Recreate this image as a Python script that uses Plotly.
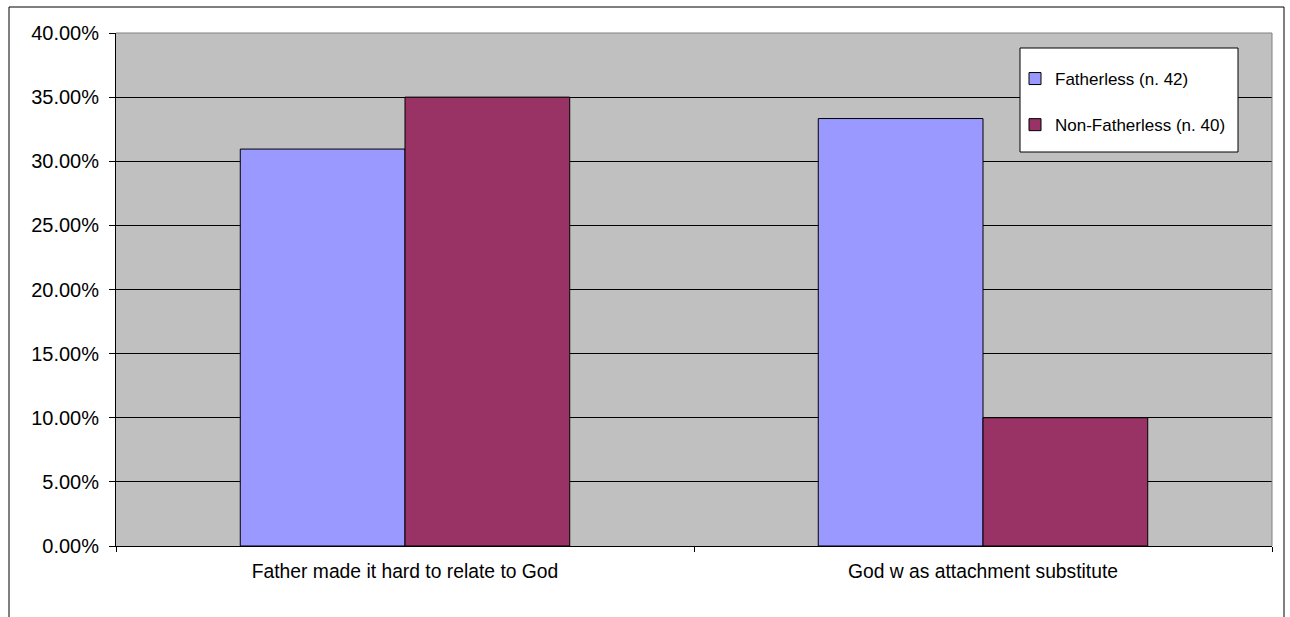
import plotly.graph_objects as go

categories = ["Father made it hard to relate to God", "God w as attachment substitute"]
fatherless = [0.3095, 0.3333]
non_fatherless = [0.35, 0.10]
series_names = ["Fatherless (n. 42)", "Non-Fatherless (n. 40)"]
y_ticks = [0, 0.05, 0.10, 0.15, 0.20, 0.25, 0.30, 0.35, 0.40]

FONT = "Liberation Sans, Arial, sans-serif"
W, H = 1290, 617
L, R, T, B = 116, 18, 33, 71
pw, ph = W - L - R, H - T - B

def px_x(x):
    return (x - L) / pw

def px_y(y):
    return (H - B - y) / ph

fig = go.Figure()
fig.add_trace(go.Bar(x=categories, y=fatherless, name=series_names[0],
                     marker=dict(color="#9999FF", line=dict(color="black", width=1)),
                     legendgroup="a"))
fig.add_trace(go.Bar(x=categories, y=non_fatherless, name=series_names[1],
                     marker=dict(color="#993366", line=dict(color="black", width=1)),
                     legendgroup="b"))

fig.update_layout(
    width=W, height=H,
    margin=dict(l=L, r=R, t=T, b=B, autoexpand=False),
    paper_bgcolor="white", plot_bgcolor="#C0C0C0",
    barmode="group", bargap=0.43, bargroupgap=0,
    font=dict(family=FONT, size=19, color="black"),
    hovermode=False,
    legend=dict(
        x=px_x(1015), y=px_y(61), xanchor="left", yanchor="top",
        bgcolor="rgba(0,0,0,0)", borderwidth=0,
        font=dict(family=FONT, size=17, color="black"),
        traceorder="grouped", tracegroupgap=21,
        itemclick=False,
    ),
    xaxis=dict(
        type="category", showline=True, linecolor="black", linewidth=1,
        ticks="outside", tickson="boundaries", ticklen=5, tickcolor="black",
        showgrid=False, tickfont=dict(size=19.3), ticklabelstandoff=8,
    ),
    yaxis=dict(
        range=[0, 0.4], tickvals=y_ticks, tickformat=".2%",
        showline=True, linecolor="black", linewidth=1,
        ticks="outside", ticklen=6, tickcolor="black",
        showgrid=True, gridcolor="black", gridwidth=1, zeroline=False,
        tickfont=dict(size=20), ticklabelstandoff=6,
    ),
    shapes=[
        dict(type="line", xref="paper", yref="paper", x0=0, x1=1, y0=1, y1=1,
             line=dict(color="#808080", width=1), layer="above"),
        dict(type="line", xref="paper", yref="paper", x0=1, x1=1, y0=0, y1=1,
             line=dict(color="#808080", width=1), layer="above"),
        dict(type="rect", xref="paper", yref="paper",
             x0=px_x(1020), x1=px_x(1238), y0=px_y(152), y1=px_y(48),
             line=dict(color="black", width=1), fillcolor="white", layer="above"),
        dict(type="rect", xref="paper", yref="paper",
             x0=px_x(9), x1=px_x(1284), y0=px_y(660), y1=px_y(7),
             line=dict(color="black", width=1), fillcolor="rgba(0,0,0,0)", layer="above"),
    ],
)

fig.write_html("out.html",
               config={"displayModeBar": False, "staticPlot": True},
               post_script="document.body.style.margin='0';document.body.style.padding='0';")
